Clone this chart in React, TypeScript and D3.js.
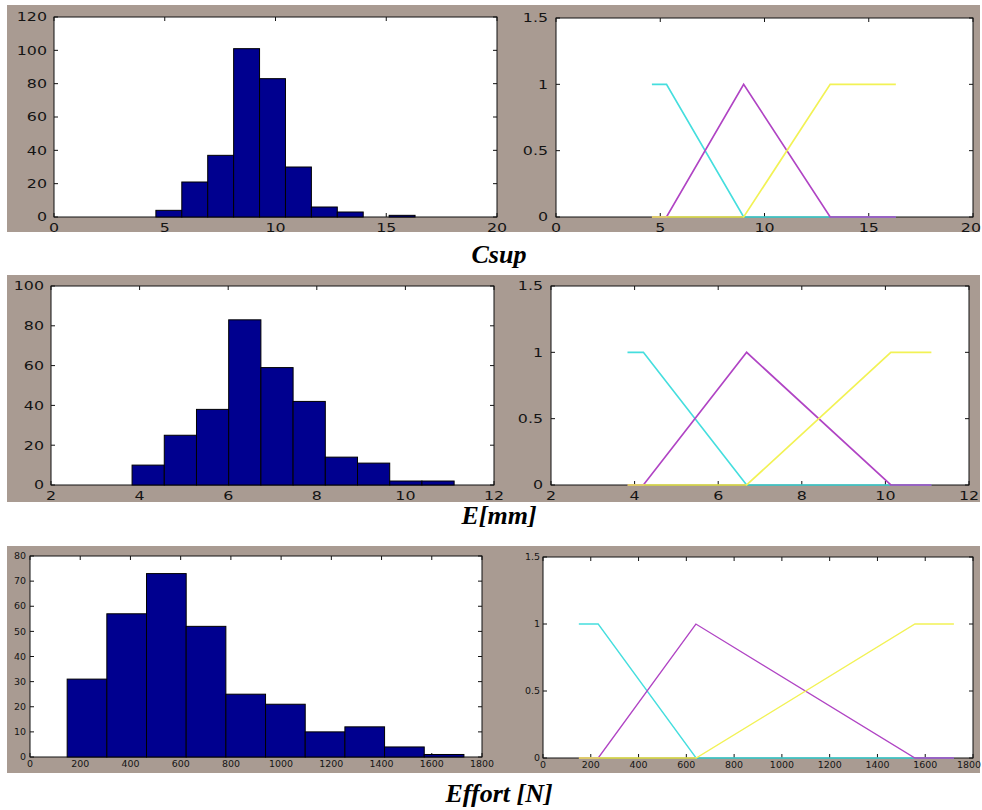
import React from "react";
import * as d3 from "d3";

// ---------- DATA ----------
const csupCounts = [4, 21, 37, 101, 83, 30, 6, 3, 0, 1];
const csupRange = [4.6, 16.3];
const eCounts = [10, 25, 38, 83, 59, 42, 14, 11, 2, 2];
const eRange = [3.83, 11.1];
const effortCounts = [31, 57, 73, 52, 25, 21, 10, 12, 4, 1];
const effortRange = [148, 1728];

// membership functions [a,b,c,d] trapezoids (triangles have b=c)
const csupLow = [4.6, 4.6, 5.3, 9.0];
const csupMid = [5.3, 9.0, 9.0, 13.15];
const csupHigh = [9.0, 13.15, 16.3, 16.3];
const eLow = [3.83, 3.83, 4.21, 6.68];
const eMid = [4.21, 6.68, 6.68, 10.13];
const eHigh = [6.68, 10.13, 11.1, 11.1];
const effortLow = [150, 150, 231, 641];
const effortMid = [231, 640, 640, 1557];
const effortHigh = [641, 1557, 1720, 1720];
const mfDomainCsup = [4.6, 16.3];
const mfDomainE = [3.83, 11.1];
const mfDomainEffort = [150, 1720];

const csupXTicks = [0, 5, 10, 15, 20];
const csupYTicks = [0, 20, 40, 60, 80, 100, 120];
const eXTicks = [2, 4, 6, 8, 10, 12];
const eYTicks = [0, 20, 40, 60, 80, 100];
const effortXTicks = [0, 200, 400, 600, 800, 1000, 1200, 1400, 1600, 1800];
const effortYTicks = [0, 10, 20, 30, 40, 50, 60, 70, 80];
const mfYTicks = [0, 0.5, 1, 1.5];

const titles = ["Csup", "E[mm]", "Effort [N]"];

// ---------- STYLE ----------
const GRAY = "#a99b92";
const BAR = "#00008f";
const CYAN = "#45dede";
const MAGENTA = "#b044c4";
const YELLOW = "#f2f255";
const W = 982;

type Box = { x0: number; x1: number; y0: number; y1: number };

function trap(p: number[], x: number) {
  const [a, b, c, d] = p;
  if (x < a || x > d) return 0;
  if (x >= b && x <= c) return 1;
  if (x < b) return b === a ? 1 : (x - a) / (b - a);
  return d === c ? 1 : (d - x) / (d - c);
}

function Label(props: {
  x: number; y: number; text: string; anchor: string; size: number; sx: number;
}) {
  const { y, text, anchor, size, sx } = props;
  let x = props.x;
  if (anchor === "middle") {
    const half = (text.length * 0.636 * size * sx) / 2;
    if (x + half > W - 1) x = W - 1 - half;
  }
  return (
    <text
      transform={`translate(${x},${y}) scale(${sx},1)`}
      textAnchor={anchor}
      fontFamily="DejaVu Sans, sans-serif"
      fontSize={size}
      fill="#141414"
    >
      {text}
    </text>
  );
}

function Axes(props: {
  box: Box;
  xDomain: number[];
  yDomain: number[];
  xTicks: number[];
  yTicks: number[];
  size: number;
  sx: number;
  xLabDy: number;
  yLabGap: number;
  render: (x: d3.ScaleLinear<number, number>, y: d3.ScaleLinear<number, number>) => React.ReactNode;
}) {
  const { box, xDomain, yDomain, xTicks, yTicks, size, sx, xLabDy, yLabGap, render } = props;
  const x = d3.scaleLinear().domain(xDomain).range([box.x0, box.x1]);
  const y = d3.scaleLinear().domain(yDomain).range([box.y1, box.y0]);
  const tl = 4;
  const fmt = (v: number) => String(v);
  return (
    <g>
      <rect x={box.x0} y={box.y0} width={box.x1 - box.x0} height={box.y1 - box.y0} fill="#fff" />
      <g stroke="#111" strokeWidth={1}>
        {xTicks.map((t) => (
          <g key={"xt" + t}>
            <line x1={x(t)} x2={x(t)} y1={box.y1} y2={box.y1 - tl} />
            <line x1={x(t)} x2={x(t)} y1={box.y0} y2={box.y0 + tl} />
          </g>
        ))}
        {yTicks.map((t) => (
          <g key={"yt" + t}>
            <line x1={box.x0} x2={box.x0 + tl} y1={y(t)} y2={y(t)} />
            <line x1={box.x1} x2={box.x1 - tl} y1={y(t)} y2={y(t)} />
          </g>
        ))}
      </g>
      <rect
        x={box.x0}
        y={box.y0}
        width={box.x1 - box.x0}
        height={box.y1 - box.y0}
        fill="none"
        stroke="#111"
        strokeWidth={1}
      />
      {render(x, y)}
      {xTicks.map((t) => (
        <Label key={"xl" + t} x={x(t)} y={box.y1 + xLabDy} text={fmt(t)} anchor="middle" size={size} sx={sx} />
      ))}
      {yTicks.map((t) => (
        <Label
          key={"yl" + t}
          x={box.x0 - yLabGap}
          y={y(t) + size * 0.36}
          text={fmt(t)}
          anchor="end"
          size={size}
          sx={sx}
        />
      ))}
    </g>
  );
}

function histRender(counts: number[], range: number[]) {
  return (x: d3.ScaleLinear<number, number>, y: d3.ScaleLinear<number, number>) => {
    const n = counts.length;
    const w = (range[1] - range[0]) / n;
    return (
      <g>
        {counts.map((c, i) => {
          const a = range[0] + i * w;
          const b = a + w;
          return (
            <rect
              key={i}
              x={x(a)}
              y={y(c)}
              width={x(b) - x(a)}
              height={y(0) - y(c)}
              fill={BAR}
              stroke="#000"
              strokeWidth={1}
            />
          );
        })}
      </g>
    );
  };
}

function mfRender(mfs: number[][], domain: number[], colors: string[], sw: number) {
  return (x: d3.ScaleLinear<number, number>, y: d3.ScaleLinear<number, number>) => {
    const line = d3
      .line<number[]>()
      .x((d) => x(d[0]))
      .y((d) => y(d[1]));
    return (
      <g>
        {mfs.map((p, i) => {
          const xs = Array.from(new Set([domain[0], ...p, domain[1]]))
            .filter((v) => v >= domain[0] && v <= domain[1])
            .sort((a, b) => a - b);
          const pts = xs.map((v) => [v, trap(p, v)]);
          return (
            <path key={i} d={line(pts) || ""} fill="none" stroke={colors[i]} strokeWidth={sw} />
          );
        })}
      </g>
    );
  };
}

export default function App() {
  const cols = [CYAN, MAGENTA, YELLOW];
  return (
    <svg
      width={982}
      height={810}
      style={{ position: "absolute", left: 0, top: 0, background: "#fff" }}
    >
      <rect x={0} y={0} width={982} height={810} fill="#fff" />
      <rect x={7} y={5} width={973} height={227} fill={GRAY} />
      <rect x={7} y={275} width={973} height={227} fill={GRAY} />
      <rect x={7} y={546} width={973} height={227} fill={GRAY} />

      <Axes
        box={{ x0: 54, x1: 497, y0: 17, y1: 217 }}
        xDomain={[0, 20]}
        yDomain={[0, 120]}
        xTicks={csupXTicks}
        yTicks={csupYTicks}
        size={12}
        sx={1.32}
        xLabDy={15}
        yLabGap={7}
        render={histRender(csupCounts, csupRange)}
      />
      <Axes
        box={{ x0: 556, x1: 973, y0: 18, y1: 217 }}
        xDomain={[0, 20]}
        yDomain={[0, 1.5]}
        xTicks={csupXTicks}
        yTicks={mfYTicks}
        size={12}
        sx={1.32}
        xLabDy={15}
        yLabGap={8}
        render={mfRender([csupLow, csupMid, csupHigh], mfDomainCsup, cols, 1.7)}
      />

      <Axes
        box={{ x0: 51, x1: 494, y0: 286, y1: 485 }}
        xDomain={[2, 12]}
        yDomain={[0, 100]}
        xTicks={eXTicks}
        yTicks={eYTicks}
        size={12}
        sx={1.32}
        xLabDy={15}
        yLabGap={7}
        render={histRender(eCounts, eRange)}
      />
      <Axes
        box={{ x0: 551, x1: 969, y0: 286, y1: 485 }}
        xDomain={[2, 12]}
        yDomain={[0, 1.5]}
        xTicks={eXTicks}
        yTicks={mfYTicks}
        size={12}
        sx={1.32}
        xLabDy={15}
        yLabGap={8}
        render={mfRender([eLow, eMid, eHigh], mfDomainE, cols, 1.7)}
      />

      <Axes
        box={{ x0: 30, x1: 482, y0: 556, y1: 757 }}
        xDomain={[0, 1800]}
        yDomain={[0, 80]}
        xTicks={effortXTicks}
        yTicks={effortYTicks}
        size={9}
        sx={1.05}
        xLabDy={10}
        yLabGap={4}
        render={histRender(effortCounts, effortRange)}
      />
      <Axes
        box={{ x0: 543, x1: 973, y0: 557, y1: 758 }}
        xDomain={[0, 1800]}
        yDomain={[0, 1.5]}
        xTicks={effortXTicks}
        yTicks={mfYTicks}
        size={9}
        sx={1.05}
        xLabDy={10}
        yLabGap={3}
        render={mfRender([effortLow, effortMid, effortHigh], mfDomainEffort, cols, 1.3)}
      />

      {titles.map((t, i) => (
        <text
          key={t}
          x={499}
          y={[263, 524, 802][i]}
          textAnchor="middle"
          fontFamily="Liberation Serif, Times New Roman, serif"
          fontWeight="bold"
          fontStyle="italic"
          fontSize={26}
          fill="#000"
        >
          {t}
        </text>
      ))}
    </svg>
  );
}
